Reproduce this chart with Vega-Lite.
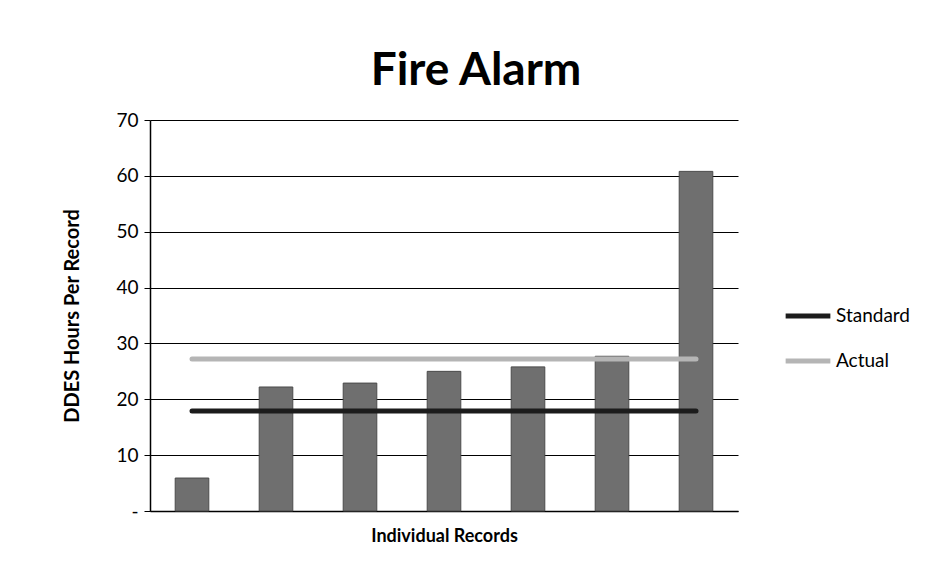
{
  "$schema": "https://vega.github.io/schema/vega-lite/v6.json",
  "width": 588,
  "height": 391,
  "autosize": {"type": "none"},
  "padding": {"left": 150, "top": 120, "right": 214, "bottom": 67},
  "background": "white",
  "config": {
    "view": {"stroke": null},
    "font": "Lato",
    "axis": {"labelFont": "Lato", "titleFont": "Lato"},
    "legend": {"labelFont": "Lato"}
  },
  "title": {
    "text": "Fire Alarm",
    "font": "Lato",
    "fontSize": 46,
    "fontWeight": "bold",
    "color": "#000000",
    "anchor": "middle",
    "dx": 32,
    "offset": 16
  },
  "datasets": {
    "bars": [
      {"record": "1", "hours": 5.9},
      {"record": "2", "hours": 22.2},
      {"record": "3", "hours": 22.9},
      {"record": "4", "hours": 25.0},
      {"record": "5", "hours": 25.8},
      {"record": "6", "hours": 27.7},
      {"record": "7", "hours": 60.8}
    ],
    "lines": [
      {"record": "1", "series": "Standard", "value": 17.9},
      {"record": "2", "series": "Standard", "value": 17.9},
      {"record": "3", "series": "Standard", "value": 17.9},
      {"record": "4", "series": "Standard", "value": 17.9},
      {"record": "5", "series": "Standard", "value": 17.9},
      {"record": "6", "series": "Standard", "value": 17.9},
      {"record": "7", "series": "Standard", "value": 17.9},
      {"record": "1", "series": "Actual", "value": 27.2},
      {"record": "2", "series": "Actual", "value": 27.2},
      {"record": "3", "series": "Actual", "value": 27.2},
      {"record": "4", "series": "Actual", "value": 27.2},
      {"record": "5", "series": "Actual", "value": 27.2},
      {"record": "6", "series": "Actual", "value": 27.2},
      {"record": "7", "series": "Actual", "value": 27.2}
    ]
  },
  "encoding": {
    "x": {
      "field": "record",
      "type": "ordinal",
      "scale": {"paddingInner": 0.6, "paddingOuter": 0.3},
      "axis": {
        "title": "Individual Records",
        "titleFontSize": 18,
        "titleFontWeight": "bold",
        "titleColor": "#000000",
        "titlePadding": 16,
        "labels": false,
        "ticks": false,
        "domainColor": "#000000",
        "domainWidth": 1.5
      }
    }
  },
  "layer": [
    {
      "data": {"name": "bars"},
      "mark": {"type": "bar", "color": "#6f6f6f", "stroke": "#4a4a4a", "strokeWidth": 1},
      "encoding": {
        "y": {
          "field": "hours",
          "type": "quantitative",
          "scale": {"domain": [0, 70]},
          "axis": {
            "title": "DDES Hours Per Record",
            "titleFontSize": 20,
            "titleFontWeight": "bold",
            "titleColor": "#000000",
            "titlePadding": 33,
            "values": [0, 10, 20, 30, 40, 50, 60, 70],
            "labelExpr": "datum.value == 0 ? '-' : datum.label",
            "labelFontSize": 19,
            "labelColor": "#000000",
            "labelPadding": 6,
            "tickSize": 6,
            "tickColor": "#000000",
            "grid": true,
            "gridColor": "#000000",
            "gridWidth": 1,
            "domainColor": "#000000",
            "domainWidth": 1.5
          }
        }
      }
    },
    {
      "data": {"name": "lines"},
      "mark": {"type": "line", "strokeWidth": 5, "strokeCap": "round"},
      "encoding": {
        "y": {"field": "value", "type": "quantitative"},
        "color": {
          "field": "series",
          "type": "nominal",
          "scale": {"domain": ["Standard", "Actual"], "range": ["#1c1c1c", "#b5b5b5"]},
          "legend": {
            "title": null,
            "orient": "none",
            "legendX": 633,
            "legendY": 171,
            "symbolType": "stroke",
            "symbolStrokeWidth": 5,
            "symbolSize": 2000,
            "labelFontSize": 19,
            "labelColor": "#000000",
            "labelOffset": 3,
            "rowPadding": 10
          }
        }
      }
    }
  ]
}
